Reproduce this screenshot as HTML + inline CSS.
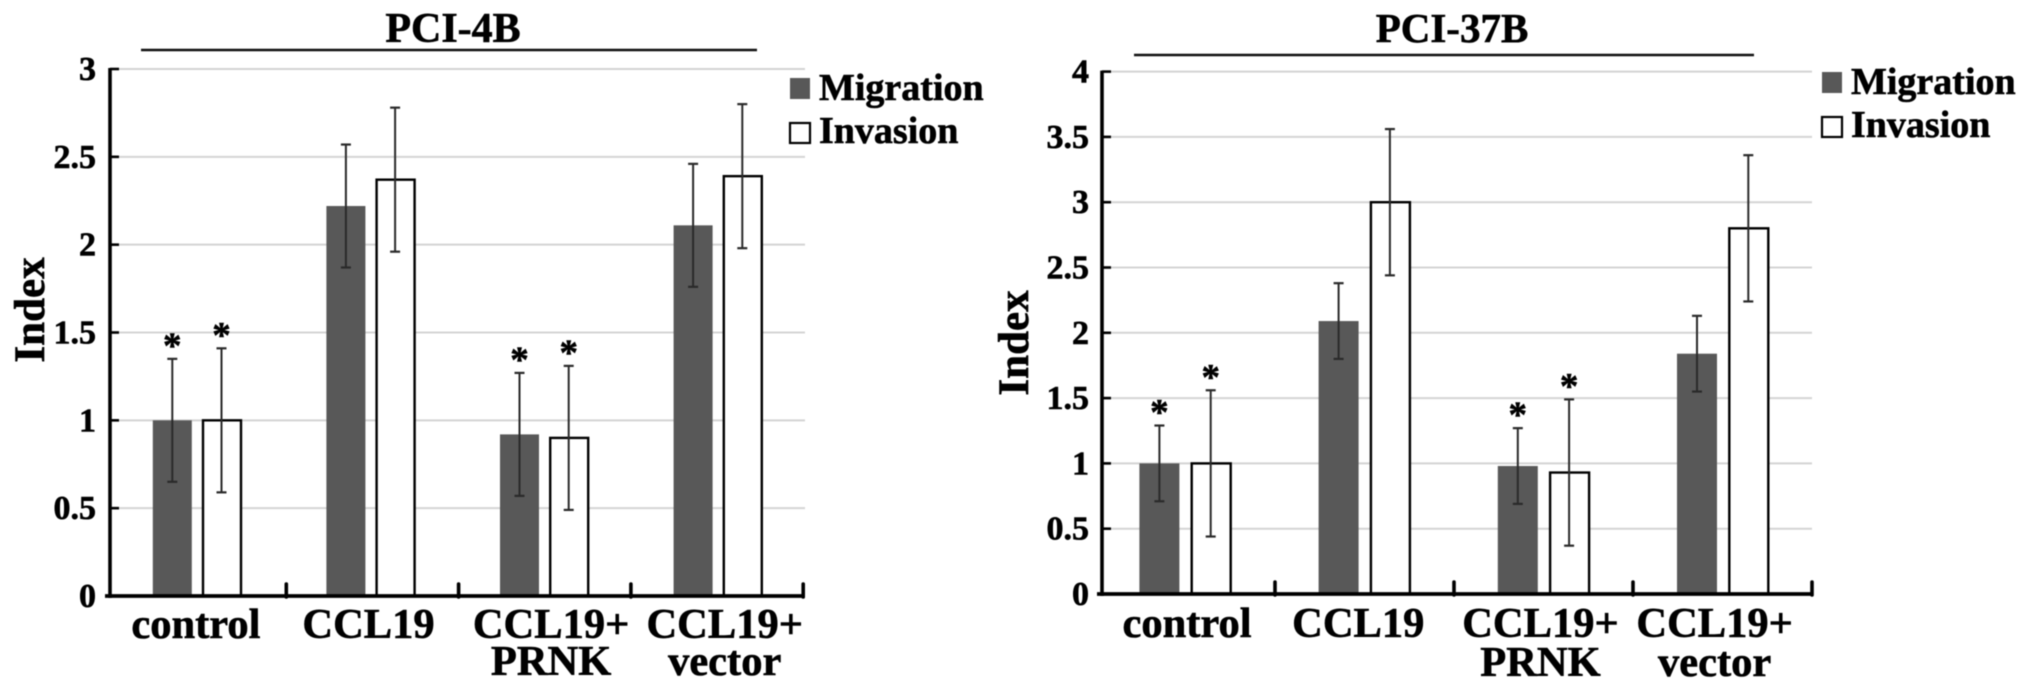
<!DOCTYPE html>
<html lang="en">
<head>
<meta charset="utf-8">
<title>PCI-4B and PCI-37B migration and invasion index</title>
<style>
html,body{margin:0;padding:0;background:#fff;width:2031px;height:689px;overflow:hidden}
svg{display:block;filter:blur(0.4px)}
text{font-family:"Liberation Serif",serif;font-weight:bold;fill:#000;stroke:#000;stroke-width:0.6px}
</style>
</head>
<body>
<svg id="figure" xmlns="http://www.w3.org/2000/svg" width="2031" height="689" viewBox="0 0 2031 689"></svg>
<script>
const categories = [["control"], ["CCL19"], ["CCL19+", "PRNK"], ["CCL19+", "vector"]];
const seriesNames = ["Migration", "Invasion"];

const leftTicks = [0, 0.5, 1, 1.5, 2, 2.5, 3];
const leftMigration = [1, 2.22, 0.92, 2.11];
const leftInvasion = [1, 2.37, 0.90, 2.39];
const leftMigrationError = [0.35, 0.35, 0.35, 0.35];
const leftInvasionError = [0.41, 0.41, 0.41, 0.41];
const leftMigrationStars = [true, false, true, false];
const leftInvasionStars = [true, false, true, false];

const rightTicks = [0, 0.5, 1, 1.5, 2, 2.5, 3, 3.5, 4];
const rightMigration = [1, 2.09, 0.98, 1.84];
const rightInvasion = [1, 3, 0.93, 2.8];
const rightMigrationError = [0.29, 0.29, 0.29, 0.29];
const rightInvasionError = [0.56, 0.56, 0.56, 0.56];
const rightMigrationStars = [true, false, true, false];
const rightInvasionStars = [true, false, true, false];

const NS = "http://www.w3.org/2000/svg";

function make(parent, tag, attrs, content) {
  const node = document.createElementNS(NS, tag);
  for (const key in attrs) node.setAttribute(key, attrs[key]);
  if (content !== undefined) node.textContent = content;
  parent.appendChild(node);
  return node;
}

function drawChart(root, chartName, title, ticks, migration, invasion, migrationError, invasionError, migrationStars, invasionStars, box) {
  const g = make(root, "g", {});
  
  

  const yMax = ticks[ticks.length - 1];
  const yScale = function (v) { return box.y0 + (box.yTop - box.y0) * (v / yMax); };
  const xMigration = function (i) { return box.groupStart + box.groupStep * i + box.migrationOffset; };
  const xInvasion = function (i) { return box.groupStart + box.groupStep * i + box.invasionOffset; };

  ticks.forEach(function (t) {
    if (t > 0) {
      const grid = make(g, "line", { x1: box.axisX, x2: box.gridEnd, y1: yScale(t), y2: yScale(t), stroke: "#d4d4d4", "stroke-width": 2 });
      
      
      const yTick = make(g, "line", { x1: box.axisX, x2: box.axisX + 9, y1: yScale(t), y2: yScale(t), stroke: "#000", "stroke-width": 2.6 });
      
      
    }
    const label = make(g, "text", { x: box.tickLabelX, y: yScale(t) + 11, "text-anchor": "end", "font-size": 34 }, String(t));
    
    
  });

  const drawBar = function (x, value, isMigration) {
    const top = yScale(value);
    const bar = make(g, "rect", isMigration
      ? { x: x, y: top, width: box.barWidth, height: box.y0 - top, fill: "#585858" }
      : { x: x + 1, y: top, width: box.barWidth - 1, height: box.y0 - top, fill: "#fff", stroke: "#000", "stroke-width": 2.4 });
    
    
  };

  const drawError = function (x, value, err, star) {
    const cx = x + box.barWidth / 2;
    const hi = yScale(value + err);
    const lo = yScale(value - err);
    const stem = make(g, "line", { x1: cx, x2: cx, y1: hi, y2: lo, stroke: "#2a2a2a", "stroke-width": 2 });
    
    
    [hi, lo].forEach(function (yy) {
      const cap = make(g, "line", { x1: cx - 5, x2: cx + 5, y1: yy, y2: yy, stroke: "#2a2a2a", "stroke-width": 2.2 });
      
      
    });
    if (star) {
      const mark = make(g, "text", { x: cx, y: hi - 1, "text-anchor": "middle", "font-size": 37 }, "*");
      
      
    }
  };

  categories.forEach(function (lines, i) {
    drawBar(xMigration(i), migration[i], true);
    drawBar(xInvasion(i), invasion[i], false);
  });
  categories.forEach(function (lines, i) {
    drawError(xMigration(i), migration[i], migrationError[i], migrationStars[i]);
    drawError(xInvasion(i), invasion[i], invasionError[i], invasionStars[i]);
    const centre = (xMigration(i) + xInvasion(i) + box.barWidth) / 2;
    lines.forEach(function (line, k) {
      const label = make(g, "text", { x: centre + box.labelShift[i] + (k === 1 ? box.secondLineShift : 0), y: box.labelY + k * box.labelLead, "text-anchor": "middle", "font-size": 42.5 }, line);
      
      
    });
  });

  const yAxis = make(g, "line", { x1: box.axisX, x2: box.axisX, y1: box.yTop - 1, y2: box.y0 + 2, stroke: "#000", "stroke-width": 3.6 });
  
  
  const xAxis = make(g, "line", { x1: box.axisX - 5, x2: box.axisEnd, y1: box.y0, y2: box.y0, stroke: "#000", "stroke-width": 3.8 });
  
  

  categories.forEach(function (lines, i) {
    const tx = box.tickStart + box.tickStep * (i + 1);
    const tick = make(g, "line", { x1: tx, x2: tx, y1: box.y0 - 12, y2: box.y0 + 1, stroke: "#000", "stroke-width": 3.6, "stroke-linecap": "round" });
    
    
  });

  const titleText = make(g, "text", { x: box.titleX, y: 42, "text-anchor": "middle", "font-size": box.titleSize }, title);
  
  
  const rule = make(g, "line", { x1: box.ruleStart, x2: box.ruleEnd, y1: box.ruleY, y2: box.ruleY, stroke: "#111", "stroke-width": 2.6 });
  
  

  const yTitle = make(g, "text", { transform: "translate(" + box.yTitleX + "," + box.yTitleY + ") rotate(-90)", "text-anchor": "middle", "font-size": 43 }, "Index");
  
  

  const migSwatch = make(g, "rect", { x: box.legendX, y: box.legendY1 - 22, width: 20, height: 21, fill: "#585858" });
  
  
  const invSwatch = make(g, "rect", { x: box.legendX, y: box.legendY2 - 20, width: 20, height: 20, fill: "#fff", stroke: "#000", "stroke-width": 2.2 });
  
  
  const migLabel = make(g, "text", { x: box.legendX + 29, y: box.legendY1, "font-size": 38 }, seriesNames[0]);
  
  
  const invLabel = make(g, "text", { x: box.legendX + 29, y: box.legendY2, "font-size": 38 }, seriesNames[1]);
  
  
}

const figure = document.getElementById("figure");

drawChart(figure, "pci-4b-chart", "PCI-4B", leftTicks, leftMigration, leftInvasion, leftMigrationError, leftInvasionError, leftMigrationStars, leftInvasionStars, {
  axisX: 110, axisEnd: 803, gridEnd: 805, y0: 596, yTop: 69,
  groupStart: 110, groupStep: 173.6, migrationOffset: 42.8, invasionOffset: 92, barWidth: 39,
  tickStart: 114, tickStep: 172.3, tickLabelX: 96,
  labelY: 638, labelLead: 37, labelShift: [-1, -2, 7, 7], secondLineShift: 0,
  titleX: 453, titleSize: 42, ruleStart: 141, ruleEnd: 757, ruleY: 50,
  yTitleX: 44, yTitleY: 310,
  legendX: 790, legendY1: 100, legendY2: 143
});

drawChart(figure, "pci-37b-chart", "PCI-37B", rightTicks, rightMigration, rightInvasion, rightMigrationError, rightInvasionError, rightMigrationStars, rightInvasionStars, {
  axisX: 1102, axisEnd: 1813, gridEnd: 1812, y0: 594, yTop: 71.6,
  groupStart: 1102, groupStep: 179.2, migrationOffset: 37.4, invasionOffset: 88.7, barWidth: 40,
  tickStart: 1096, tickStep: 179, tickLabelX: 1089,
  labelY: 637, labelLead: 39, labelShift: [2, -6, -3, -8], secondLineShift: 0,
  titleX: 1452, titleSize: 41, ruleStart: 1134, ruleEnd: 1754, ruleY: 55,
  yTitleX: 1028, yTitleY: 343,
  legendX: 1822, legendY1: 94, legendY2: 137
});
</script>
</body>
</html>
